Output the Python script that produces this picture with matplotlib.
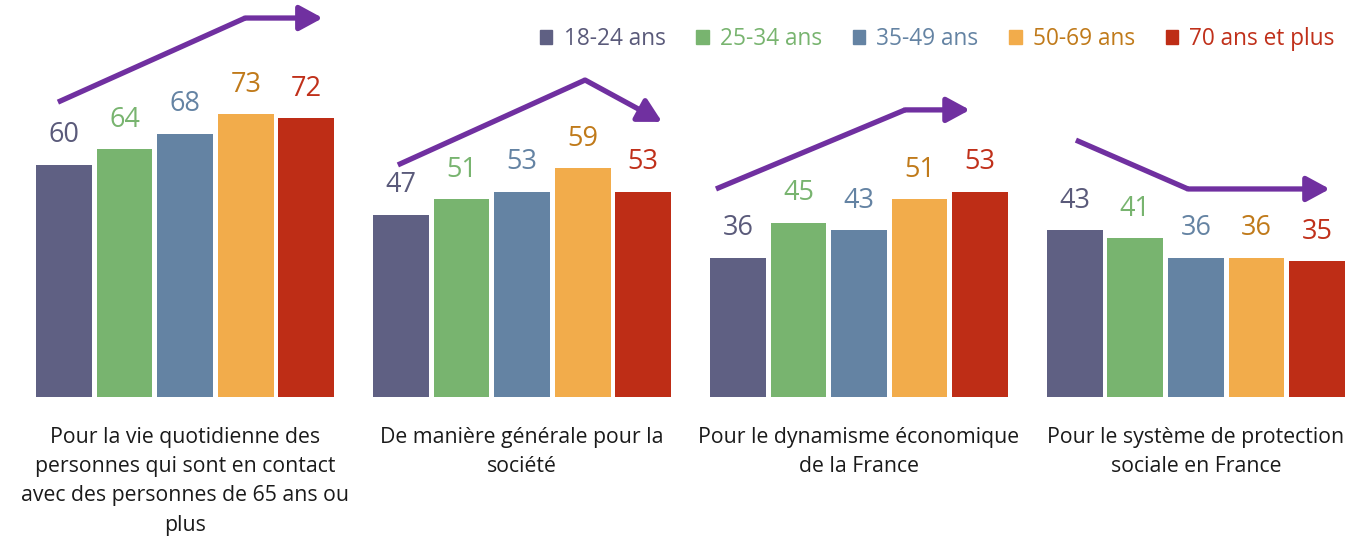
import matplotlib
matplotlib.use("Agg")
import matplotlib.pyplot as plt
from matplotlib.patches import Patch

# ---------- Data ----------
categories = [
    "Pour la vie quotidienne des\npersonnes qui sont en contact\navec des personnes de 65 ans ou\nplus",
    "De manière générale pour la\nsociété",
    "Pour le dynamisme économique\nde la France",
    "Pour le système de protection\nsociale en France",
]
age_groups = ["18-24 ans", "25-34 ans", "35-49 ans", "50-69 ans", "70 ans et plus"]
values_18_24 = [60, 47, 36, 43]
values_25_34 = [64, 51, 45, 41]
values_35_49 = [68, 53, 43, 36]
values_50_69 = [73, 59, 51, 36]
values_70_plus = [72, 53, 53, 35]

# trend arrows drawn above each group (x in bar slots, y in value units)
trend_x = [[-0.1, 2.99, 4.27], [5.51, 8.6, 9.87], [10.76, 13.88, 14.95], [16.7, 18.55, 20.89]]
trend_y = [[76.1, 97.8, 97.8], [59.9, 81.8, 71.0], [53.7, 74.1, 74.1], [66.3, 53.7, 53.7]]

bar_colors = ["#5f6083", "#78b46f", "#6483a3", "#f2ac4b", "#be2d16"]
text_colors = ["#5a5a7a", "#78b46f", "#6483a3", "#c07a1a", "#c0301a"]
arrow_color = "#7030a0"

plt.rcParams["font.family"] = ["Open Sans", "DejaVu Sans"]

fig = plt.figure(figsize=(13.51, 5.39), dpi=100)
ax = fig.add_axes([0, 0, 1, 1])
ax.set_xlim(-1.056, 21.24)
ax.set_ylim(-36.6, 102.45)
ax.axis("off")

series = [values_18_24, values_25_34, values_35_49, values_50_69, values_70_plus]
group_step = 5.56
for i, vals in enumerate(series):
    for g, v in enumerate(vals):
        x = g * group_step + i
        ax.bar(x, v, width=0.92, color=bar_colors[i])
        ax.text(x, v + 7.6, str(v), ha="center", va="center", fontsize=19.5,
                color=text_colors[i])

for g, label in enumerate(categories):
    ax.text(g * group_step + 2, -7.6, label, ha="center", va="top", fontsize=15.3,
            color="#1a1a1a", linespacing=1.52)

for xs, ys in zip(trend_x, trend_y):
    ax.plot(xs[:-1], ys[:-1], color=arrow_color, lw=3.8, solid_capstyle="butt",
            solid_joinstyle="miter")
    ax.annotate("", xy=(xs[-1], ys[-1]), xytext=(xs[-2], ys[-2]),
                arrowprops=dict(arrowstyle="-|>,head_length=0.7,head_width=0.38",
                                color=arrow_color, lw=3.8, mutation_scale=20,
                                shrinkA=0, shrinkB=0))

handles = [Patch(color=c) for c in bar_colors]
ax.legend(handles, age_groups, loc="upper right", bbox_to_anchor=(1.003, 0.988),
          ncol=5, frameon=False, fontsize=16.3, labelcolor=text_colors,
          handlelength=0.55, handleheight=0.55, handletextpad=0.5, columnspacing=1.35)

fig.savefig("out.png", dpi=100)
